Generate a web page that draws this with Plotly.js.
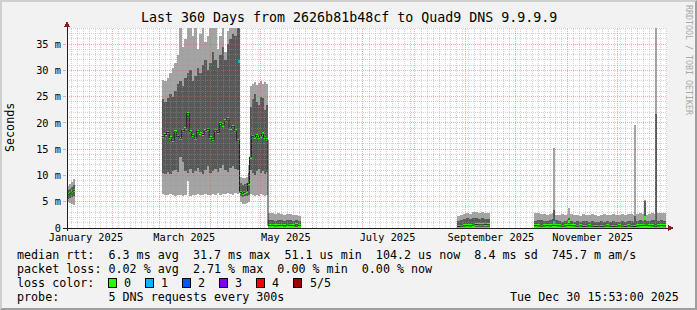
<!DOCTYPE html>
<html><head><meta charset="utf-8">
<script src="https://cdn.plot.ly/plotly-3.0.1.min.js"></script>
<style>
html,body{margin:0;padding:0;background:#f2f2f2;}
#wrap{position:relative;width:697px;height:310px;overflow:hidden;}
#chart{width:697px;height:310px;}
#frame{position:absolute;left:0;top:0;width:697px;height:310px;box-sizing:border-box;border-style:solid;border-width:2px;border-color:#cfcfcf #9e9e9e #9e9e9e #cfcfcf;pointer-events:none;}
</style></head>
<body><div id="wrap"><div id="chart"></div><div id="frame"></div></div>
<script>
// ---------------- data (y in milli-seconds, shown as "m") -------------
const rangeStart = '2025-01-04T15:53';
const rangeEnd   = '2025-12-30T15:53';

// measurement segments: start time and bucket length (days)
const segStart    = ['2025-01-04T15:50','2025-03-02T11:30','2025-04-18T03:50','2025-04-24T03:50','2025-05-05T06:15','2025-08-26T15:50','2025-10-11T20:40'];
const segStepDays = [1.2, 1.5, 1.2, 1.2, 1.8, 1.8, 1.8];

// smoke: max ping, 4th ping, 2nd ping, min ping; median rtt; lost pings (of 5)
const bandHigh = [
  [8.0, 8.3, 8.8, 9.3],
  [28.2, 28.0, 28.6, 29.5, 30.5, 31.5, 33.0, 40, 34.5, 36.0, 40, 40, 36.5, 40, 34.0, 37.0, 40, 35.5, 36.5, 40, 40, 38.5, 34.0, 36.5, 40, 33.5, 37.5, 40, 40, 40, 40],
  [9.8, 9.6, 9.5, 9.8, 12.0],
  [27.0, 27.5, 27.8, 27.2, 27.6, 28.0, 27.4, 27.8, 27.5],
  [2.9, 2.8, 2.6, 2.8, 2.7, 2.5, 2.6, 2.7, 2.5, 2.4, 2.3],
  [2.3, 2.4, 2.6, 2.8, 2.7, 3.0, 3.1, 2.9, 3.0, 2.9, 2.8],
  [2.9, 2.8, 2.6, 2.7, 2.5, 2.6, 2.8, 2.5, 2.4, 2.6, 2.5, 2.7, 2.6, 2.4, 2.5, 2.3, 2.6, 2.5, 2.4, 2.6, 2.5, 2.3, 2.4, 2.6, 2.5, 2.4, 2.6, 2.5, 2.4, 2.6, 2.5, 2.7, 2.6, 2.5, 2.7, 2.8, 2.6, 2.5, 2.7, 2.9, 2.7, 2.8, 2.9, 2.8]
];
const bandQ3 = [
  [7.2, 7.4, 7.8, 8.1],
  [24.5, 24.0, 24.8, 25.5, 25.0, 26.0, 27.5, 28.0, 27.0, 28.5, 29.5, 30.0, 28.0, 29.0, 30.5, 29.5, 31.0, 32.0, 30.0, 31.5, 33.5, 32.0, 30.5, 33.0, 34.5, 32.0, 35.0, 36.0, 37.0, 36.5, 38.5],
  [8.5, 8.2, 8.3, 8.6, 10.5],
  [23.0, 24.5, 25.5, 24.0, 23.5, 25.0, 24.8, 22.5, 23.5],
  [1.5, 1.6, 1.4, 1.5, 1.6, 1.4, 1.5, 1.6, 1.4, 1.5, 1.3],
  [1.4, 1.5, 1.7, 1.9, 1.8, 1.9, 2.0, 1.8, 1.9, 1.8, 1.7],
  [1.4, 1.6, 1.5, 1.3, 1.4, 1.5, 1.7, 1.6, 1.3, 1.2, 1.3, 1.5, 1.4, 1.2, 1.3, 1.2, 1.4, 1.3, 1.2, 1.3, 1.2, 1.1, 1.3, 1.2, 1.3, 1.2, 1.3, 1.2, 1.1, 1.3, 1.2, 1.4, 1.3, 1.2, 1.4, 1.5, 1.4, 1.3, 1.4, 1.6, 1.5, 1.4, 1.5, 1.4]
];
const bandQ1 = [
  [5.6, 5.7, 5.9, 6.0],
  [10.5, 10.3, 10.6, 10.2, 10.8, 11.0, 10.7, 13.5, 12.5, 10.8, 10.5, 11.2, 10.4, 10.9, 11.5, 10.6, 10.3, 11.0, 11.8, 10.5, 10.9, 11.3, 10.6, 11.5, 12.0, 11.0, 10.7, 11.5, 11.8, 11.2, 11.0],
  [6.0, 5.9, 6.0, 6.1, 6.2],
  [11.0, 10.5, 10.0, 10.8, 11.2, 10.4, 10.9, 10.2, 10.6],
  [0.2, 0.2, 0.15, 0.2, 0.2, 0.15, 0.2, 0.2, 0.15, 0.2, 0.2],
  [0.15, 0.15, 0.2, 0.15, 0.2, 0.2, 0.15, 0.2, 0.15, 0.2, 0.15],
  [0.2, 0.15, 0.15, 0.2, 0.15, 0.2, 0.2, 0.15, 0.15, 0.2, 0.15, 0.2, 0.15, 0.15, 0.2, 0.15, 0.15, 0.2, 0.15, 0.15, 0.15, 0.15, 0.2, 0.15, 0.15, 0.15, 0.2, 0.15, 0.15, 0.15, 0.15, 0.2, 0.15, 0.15, 0.2, 0.2, 0.15, 0.2, 0.15, 0.2, 0.15, 0.15, 0.2, 0.15]
];
const bandLow = [
  [4.9, 4.7, 4.5, 4.4],
  [6.5, 6.3, 6.2, 6.4, 6.2, 6.1, 6.3, 6.2, 6.0, 6.3, 8.9, 6.1, 6.3, 6.2, 6.4, 6.2, 6.3, 6.5, 6.3, 6.2, 6.4, 6.3, 6.6, 6.3, 6.5, 6.4, 6.7, 6.5, 6.3, 6.6, 6.5],
  [4.9, 4.5, 4.6, 4.8, 5.0],
  [6.5, 6.2, 6.0, 6.3, 6.1, 6.4, 6.2, 6.0, 6.2],
  [0.05, 0.05, 0.05, 0.05, 0.05, 0.05, 0.05, 0.05, 0.05, 0.05, 0.05],
  [0.05, 0.05, 0.05, 0.05, 0.05, 0.05, 0.05, 0.05, 0.05, 0.05, 0.05],
  [0.05, 0.05, 0.05, 0.05, 0.05, 0.05, 0.05, 0.05, 0.05, 0.05, 0.05, 0.05, 0.05, 0.05, 0.05, 0.05, 0.05, 0.05, 0.05, 0.05, 0.05, 0.05, 0.05, 0.05, 0.05, 0.05, 0.05, 0.05, 0.05, 0.05, 0.05, 0.05, 0.05, 0.05, 0.05, 0.05, 0.05, 0.05, 0.05, 0.05, 0.05, 0.05, 0.05, 0.05]
];
const medianRtt = [
  [6.3, 6.5, 6.9, 7.2],
  [17.4, 17.8, 18.2, 17.2, 16.7, 18.3, 17.4, 17.0, 18.5, 18.9, 21.8, 18.3, 17.6, 17.0, 18.4, 18.0, 17.8, 18.5, 18.8, 17.2, 16.8, 18.6, 18.2, 19.9, 19.6, 20.4, 20.8, 19.0, 19.3, 18.5, 16.6],
  [6.8, 6.6, 6.8, 7.0, 8.5],
  [13.5, 17.4, 17.3, 17.6, 17.2, 17.5, 17.9, 17.3, 16.8],
  [0.45, 0.5, 0.4, 0.45, 0.5, 0.4, 0.55, 0.5, 0.45, 0.6, 0.5],
  [0.3, 0.35, 0.4, 0.45, 0.4, 0.55, 0.65, 0.6, 0.6, 0.7, 0.6],
  [0.45, 0.4, 0.35, 0.4, 0.45, 0.4, 0.5, 0.45, 0.4, 0.35, 0.4, 0.5, 0.45, 0.4, 0.35, 0.4, 0.3, 0.35, 0.4, 0.35, 0.3, 0.35, 0.3, 0.35, 0.4, 0.35, 0.3, 0.35, 0.4, 0.35, 0.3, 0.4, 0.35, 0.3, 0.4, 0.45, 0.5, 0.55, 0.45, 0.4, 0.35, 0.4, 0.45, 0.4]
];
const lossCount = [
  [0, 0, 0, 0],
  [0, 0, 0, 0, 0, 0, 1, 0, 0, 0, 0, 0, 0, 0, 0, 0, 0, 0, 0, 0, 0, 0, 0, 0, 0, 0, 0, 0, 0, 0, 0],
  [0, 0, 0, 0, 0],
  [0, 1, 0, 0, 0, 0, 0, 0, 0],
  [0, 0, 0, 0, 0, 0, 0, 0, 0, 0, 0],
  [0, 0, 0, 0, 0, 0, 0, 0, 0, 0, 0],
  [0, 0, 0, 0, 0, 0, 0, 0, 0, 0, 0, 0, 0, 0, 0, 0, 0, 0, 0, 0, 0, 0, 0, 0, 0, 0, 0, 0, 0, 0, 0, 0, 0, 0, 0, 0, 0, 0, 0, 0, 0, 0, 0, 0]
];

// short single-step outliers
const spikeDate = ['2025-04-17T20:40','2025-10-24T01:00','2025-11-02T01:00','2025-12-11T21:10','2025-12-17T11:00','2025-12-24T01:30'];
const spikeHigh = [40, 15.2, 3.9, 19.6, 5.3, 40];
const spikeQ3   = [40, 3.5, 2.0, 2.3, 5.1, 21.7];
const spikeQ1   = [12.0, 0.3, 0.3, 0.2, 0.3, 0.2];
const spikeLow  = [8.0, 0.05, 0.05, 0.05, 0.05, 0.05];
const spikeMed  = [31.7, 1.07, 1.25, null, 1.9, null];
const spikeLoss = [1, 1, 0, 0, 0, 0];
const spikeStepDays = 0.9;

const lossLabels = ['0', '1', '2', '3', '4', '5/5'];
const lossColors = ['#26ff00', '#00b8ff', '#0059ff', '#7e00ff', '#ff0000', '#a10000'];

const yTickVals = [0, 5, 10, 15, 20, 25, 30, 35];
const yTickText = ['0', '5 m', '10 m', '15 m', '20 m', '25 m', '30 m', '35 m'];
const xLabelDates = ['2025-01-16','2025-03-16','2025-05-16','2025-07-16','2025-09-16','2025-11-16'];
const xLabelText  = ['January 2025','March 2025','May 2025','July 2025','September 2025','November 2025'];

const titleText = 'Last 360 Days from 2626b81b48cf to Quad9 DNS 9.9.9.9';
const legendLines = [
  'median rtt:  6.3 ms avg  31.7 ms max  51.1 us min  104.2 us now  8.4 ms sd  745.7 m am/s',
  'packet loss: 0.02 % avg  2.71 % max  0.00 % min  0.00 % now'
];
const lossColorLabel = 'loss color:';
const probeLabel = 'probe:       5 DNS requests every 300s';
const stampText = 'Tue Dec 30 15:53:00 2025';

// ---------------- build ----------------
const DAY = 86400000;
const ms = s => Date.parse(s.length === 10 ? s + 'T00:00Z' : s + 'Z');
const MONO = 'DejaVu Sans Mono';
const px = x => (x - 67) / 600;      // page pixel -> paper x
const py = y => (228 - y) / 200;     // page pixel -> paper y
const nb = s => s.replace(/ /g, '\u00a0');

let bx = [], bw = [], hi = [], q3 = [], q1 = [], lo = [], med = [], loss = [];
let lineX = [], lineY = [];
let prevEnd = null, prevMed = null;
segStart.forEach((s, k) => {
  const t0 = ms(s), w = segStepDays[k] * DAY;
  if (prevEnd !== null && t0 - prevEnd > 0.5 * DAY) {
    lineX.push(prevEnd); lineY.push(prevMed);
    lineX.push(null); lineY.push(null);
  }
  medianRtt[k].forEach((m, i) => {
    const st = t0 + i * w;
    bx.push(st + w / 2); bw.push(w);
    hi.push(bandHigh[k][i]); q3.push(bandQ3[k][i]); q1.push(bandQ1[k][i]); lo.push(bandLow[k][i]);
    med.push(m); loss.push(lossCount[k][i]);
    lineX.push(st); lineY.push(m);
  });
  prevEnd = t0 + medianRtt[k].length * w;
  prevMed = medianRtt[k][medianRtt[k].length - 1];
});
lineX.push(prevEnd); lineY.push(prevMed);

const sx = spikeDate.map(ms), sw = spikeDate.map(() => spikeStepDays * DAY);

const LIGHT = '#a4a4a4', DARK = '#585858';
const blobH = 0.6;
let blobX = [], blobW = [], blobBase = [], blobColor = [];
bx.forEach((x, i) => { blobX.push(x); blobW.push(bw[i]); blobBase.push(med[i] - blobH / 2); blobColor.push(lossColors[loss[i]]); });
sx.forEach((x, i) => { if (spikeMed[i] !== null) { blobX.push(x); blobW.push(sw[i]); blobBase.push(spikeMed[i] - blobH / 2); blobColor.push(lossColors[spikeLoss[i]]); } });

const barT = (x, w, base, top, color) => ({
  type: 'bar', x: x, width: w, base: base, y: top.map((t, i) => t - base[i]),
  marker: { color: color, line: { width: 0 } }, hoverinfo: 'skip'
});

const traces = [
  barT(bx, bw, lo, hi, LIGHT),
  barT(sx, sw, spikeLow, spikeHigh, LIGHT),
  barT(bx, bw, q1, q3, DARK),
  barT(sx, sw, spikeQ1, spikeQ3, DARK),
  { type: 'scatter', mode: 'lines', x: lineX, y: lineY, line: { color: '#202020', width: 1, shape: 'hv' }, connectgaps: false, hoverinfo: 'skip' },
  { type: 'bar', x: blobX, width: blobW, base: blobBase, y: blobX.map(() => blobH), marker: { color: blobColor, line: { width: 0 } }, hoverinfo: 'skip' }
];

// ---------------- grid, axes, decorations ----------------
const xs = ms(rangeStart), xe = ms(rangeEnd);
const GRID = 'rgba(150,150,150,0.42)', MGRID = 'rgba(230,90,90,0.5)';
const shapes = [];
const monthStarts = [];
for (let m = 1; m < 12; m++) monthStarts.push(Date.UTC(2025, m, 1));
const minorStep = 3.5 * DAY;
const minorX = [];
for (let t = Date.UTC(2025, 1, 1); t > xs; t -= minorStep) minorX.push(t);
for (let t = Date.UTC(2025, 1, 1) + minorStep; t < xe; t += minorStep) minorX.push(t);
minorX.forEach(t => {
  if (monthStarts.some(m => Math.abs(m - t) < 1.2 * DAY)) return;
  shapes.push({ type: 'line', layer: 'above', xref: 'x', yref: 'paper', x0: t, x1: t, y0: 0, y1: 1, line: { color: GRID, width: 1, dash: '1px,1px' } });
});
for (let v = 1; v <= 38; v++) {
  if (v % 5 === 0) continue;
  shapes.push({ type: 'line', layer: 'above', xref: 'paper', yref: 'y', x0: 0, x1: 1, y0: v, y1: v, line: { color: GRID, width: 1, dash: '1px,1px' } });
}
monthStarts.forEach(t => shapes.push({ type: 'line', layer: 'above', xref: 'x', yref: 'paper', x0: t, x1: t, y0: 0, y1: 1, line: { color: MGRID, width: 1, dash: '1px,1px' } }));
yTickVals.forEach(v => { if (v > 0) shapes.push({ type: 'line', layer: 'above', xref: 'paper', yref: 'y', x0: 0, x1: 1, y0: v, y1: v, line: { color: MGRID, width: 1, dash: '1px,1px' } }); });
// axes
shapes.push({ type: 'line', layer: 'above', xref: 'paper', yref: 'paper', x0: px(63), x1: px(669), y0: 0, y1: 0, line: { color: '#1f1f1f', width: 1 } });
shapes.push({ type: 'line', layer: 'above', xref: 'paper', yref: 'paper', x0: 0, x1: 0, y0: py(231), y1: py(26), line: { color: '#1f1f1f', width: 1 } });
shapes.push({ type: 'path', layer: 'above', xref: 'paper', yref: 'paper', path: `M${px(668)},${py(225)} L${px(674)},${py(228)} L${px(668)},${py(231)} Z`, fillcolor: '#801f1f', line: { width: 0 } });
shapes.push({ type: 'path', layer: 'above', xref: 'paper', yref: 'paper', path: `M${px(64)},${py(27)} L${px(67)},${py(21)} L${px(70)},${py(27)} Z`, fillcolor: '#801f1f', line: { width: 0 } });
// loss colour swatches
lossColors.forEach((c, i) => {
  const L = 108 + 37.1 * i;
  shapes.push({ type: 'rect', xref: 'paper', yref: 'paper', x0: px(L), x1: px(L + 8), y0: py(287), y1: py(278), fillcolor: c, line: { color: '#000', width: 1 } });
});

const ann = [];
const txt = (text, x, y, o) => ann.push(Object.assign({ text: nb(text), x: px(x), y: py(y), xref: 'paper', yref: 'paper', showarrow: false, xanchor: 'left', yanchor: 'middle', font: { family: MONO, size: 11.7, color: '#000' } }, o || {}));
txt(titleText, 348.5, 18, { xanchor: 'center', font: { family: MONO, size: 13.3, color: '#000' } });
txt('Seconds', 10, 128, { xanchor: 'center', textangle: -90 });
txt('RRDTOOL / TOBI OETIKER', 689, 60, { xanchor: 'center', textangle: 90, font: { family: MONO, size: 8.3, color: '#a8a8a8' } });
txt(legendLines[0], 15, 254.5);
txt(legendLines[1], 15, 268.5);
txt(lossColorLabel, 15, 282.5);
lossLabels.forEach((l, i) => txt(l, 122 + 37.1 * i, 282.5));
txt(probeLabel, 15, 296.5);
txt(stampText, 681, 296.5, { xanchor: 'right' });

const layout = {
  width: 697, height: 310,
  margin: { l: 67, r: 30, t: 28, b: 82, pad: 0 },
  paper_bgcolor: '#f2f2f2', plot_bgcolor: '#ffffff',
  showlegend: false, barmode: 'overlay', bargap: 0,
  xaxis: { type: 'date', range: [xs, xe], showgrid: false, zeroline: false, showline: false,
           tickmode: 'array', tickvals: xLabelDates.map(ms), ticktext: xLabelText, ticks: '', ticklabelstandoff: 2,
           tickfont: { family: MONO, size: 10.3, color: '#000' }, fixedrange: true },
  yaxis: { range: [0, 38.08], showgrid: false, zeroline: false, showline: false,
           tickmode: 'array', tickvals: yTickVals, ticktext: yTickText, ticks: 'outside', ticklen: 3, tickcolor: MGRID,
           tickfont: { family: MONO, size: 10.3, color: '#000' }, fixedrange: true },
  shapes: shapes, annotations: ann
};

Plotly.newPlot('chart', traces, layout, { displayModeBar: false, responsive: false }).then(() => {
  document.querySelectorAll('.shapelayer path, .layer-above path').forEach(p => p.setAttribute('shape-rendering', 'crispEdges'));
});
</script></body></html>
